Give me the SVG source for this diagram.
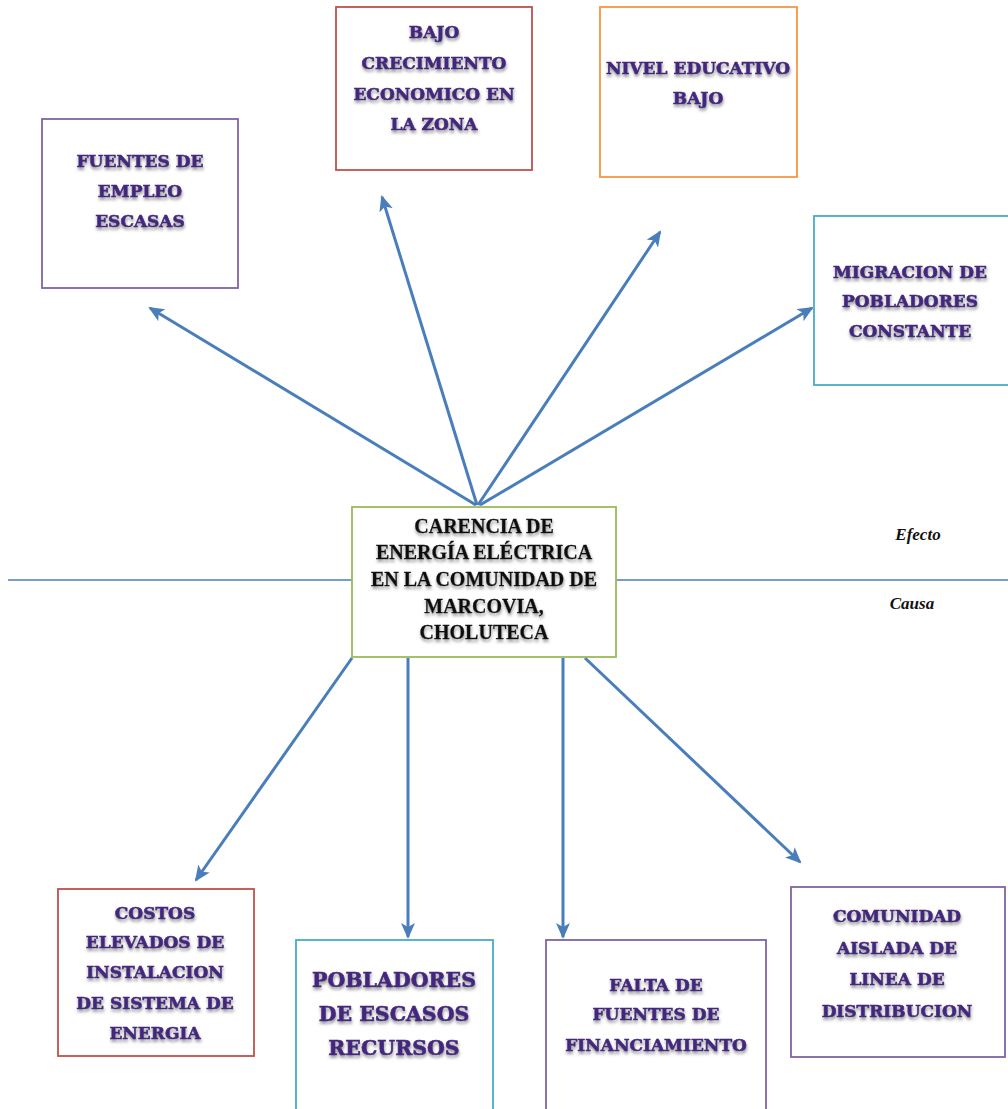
<svg xmlns="http://www.w3.org/2000/svg" width="1008" height="1109" viewBox="0 0 1008 1109">
  <defs>
    <filter id="shadow" x="-10%" y="-20%" width="120%" height="160%">
      <feDropShadow dx="0.5" dy="2.5" stdDeviation="1.5" flood-color="#6a6a6a" flood-opacity="0.75"/>
    </filter>
    <marker id="arrow" viewBox="0 0 16 14" refX="14" refY="7" markerWidth="16" markerHeight="14" markerUnits="userSpaceOnUse" orient="auto">
      <path d="M0,0 L16,7 L0,14 L4,7 Z" fill="#4a7ebb"/>
    </marker>
  </defs>
  <style>
    .box { fill: #ffffff; stroke-width: 1.8; }
    .purple { stroke: #8064a2; }
    .red { stroke: #c0504d; }
    .orange { stroke: #f79646; }
    .aqua { stroke: #4bacc6; }
    .green { stroke: #9bbb59; }
    .lbl { font-family: "DejaVu Serif", "Liberation Serif", serif; font-weight: bold; font-size: 17px; fill: #45287f; stroke: #45287f; stroke-width: 0.6; text-anchor: middle; filter: url(#shadow); }
    .big { font-size: 20.5px; }
    .core { font-family: "Liberation Serif", "Times New Roman", serif; font-weight: bold; font-size: 20px; fill: #111111; stroke: #111111; stroke-width: 0.3; text-anchor: middle; filter: url(#shadow); }
    .side { font-family: "Liberation Serif", "Times New Roman", serif; font-weight: bold; font-style: italic; font-size: 17px; fill: #111111; text-anchor: middle; }
    .conn { stroke: #4a7ebb; stroke-width: 3; fill: none; marker-end: url(#arrow); }
    .axis { stroke: #4a7ebb; stroke-width: 1.5; fill: none; }
  </style>
  <rect width="1008" height="1109" fill="#ffffff"/>

  <!-- divider between effects and causes -->
  <g id="divider">
    <line class="axis" x1="8" y1="580" x2="352" y2="580"/>
    <line class="axis" x1="616" y1="580" x2="1008" y2="580"/>
    <text class="side" x="918" y="540">Efecto</text>
    <text class="side" x="912" y="609">Causa</text>
  </g>

  <!-- connectors -->
  <g id="connectors">
    <line class="conn" x1="476" y1="505" x2="150" y2="308"/>
    <line class="conn" x1="477" y1="505" x2="382" y2="197"/>
    <line class="conn" x1="478" y1="505" x2="660" y2="232"/>
    <line class="conn" x1="480" y1="505" x2="812" y2="308"/>
    <line class="conn" x1="352" y1="658" x2="196" y2="880"/>
    <line class="conn" x1="408" y1="658" x2="408" y2="937"/>
    <line class="conn" x1="563" y1="658" x2="563" y2="937"/>
    <line class="conn" x1="585" y1="658" x2="800" y2="862"/>
  </g>

  <!-- effects -->
  <g id="fuentes-empleo">
    <rect class="box purple" x="42" y="119" width="196" height="169"/>
    <text class="lbl" x="140" y="167">FUENTES DE</text>
    <text class="lbl" x="140" y="197">EMPLEO</text>
    <text class="lbl" x="140" y="227">ESCASAS</text>
  </g>
  <g id="bajo-crecimiento">
    <rect class="box red" x="336" y="7" width="196" height="163"/>
    <text class="lbl" x="434" y="38">BAJO</text>
    <text class="lbl" x="434" y="69">CRECIMIENTO</text>
    <text class="lbl" x="434" y="100">ECONOMICO  EN</text>
    <text class="lbl" x="434" y="130">LA ZONA</text>
  </g>
  <g id="nivel-educativo">
    <rect class="box orange" x="600" y="7" width="197" height="170"/>
    <text class="lbl" x="698" y="74">NIVEL EDUCATIVO</text>
    <text class="lbl" x="698" y="104">BAJO</text>
  </g>
  <g id="migracion">
    <rect class="box aqua" x="814" y="216" width="200" height="169"/>
    <text class="lbl" x="910" y="278">MIGRACION  DE</text>
    <text class="lbl" x="910" y="307">POBLADORES</text>
    <text class="lbl" x="910" y="337">CONSTANTE</text>
  </g>

  <!-- central problem -->
  <g id="problema-central">
    <rect class="box green" x="352" y="507" width="264" height="150"/>
    <text class="core" x="484" y="533">CARENCIA  DE</text>
    <text class="core" x="484" y="559">ENERGÍA ELÉCTRICA</text>
    <text class="core" x="484" y="586">EN LA COMUNIDAD  DE</text>
    <text class="core" x="484" y="613">MARCOVIA,</text>
    <text class="core" x="484" y="639">CHOLUTECA</text>
  </g>

  <!-- causes -->
  <g id="costos-elevados">
    <rect class="box red" x="58" y="889" width="196" height="167"/>
    <text class="lbl" x="155" y="919">COSTOS</text>
    <text class="lbl" x="155" y="948">ELEVADOS DE</text>
    <text class="lbl" x="155" y="978">INSTALACION</text>
    <text class="lbl" x="155" y="1009">DE SISTEMA DE</text>
    <text class="lbl" x="155" y="1039">ENERGIA</text>
  </g>
  <g id="pobladores">
    <rect class="box aqua" x="296" y="940" width="197" height="175"/>
    <text class="lbl big" x="394" y="987">POBLADORES</text>
    <text class="lbl big" x="394" y="1021">DE ESCASOS</text>
    <text class="lbl big" x="394" y="1055">RECURSOS</text>
  </g>
  <g id="falta-financiamiento">
    <rect class="box purple" x="546" y="940" width="220" height="175"/>
    <text class="lbl" x="656" y="991">FALTA DE</text>
    <text class="lbl" x="656" y="1020">FUENTES DE</text>
    <text class="lbl" x="656" y="1051">FINANCIAMIENTO</text>
  </g>
  <g id="comunidad-aislada">
    <rect class="box purple" x="791" y="887" width="214" height="170"/>
    <text class="lbl" x="897" y="922">COMUNIDAD</text>
    <text class="lbl" x="897" y="954">AISLADA DE</text>
    <text class="lbl" x="897" y="985">LINEA DE</text>
    <text class="lbl" x="897" y="1017">DISTRIBUCION</text>
  </g>
</svg>
